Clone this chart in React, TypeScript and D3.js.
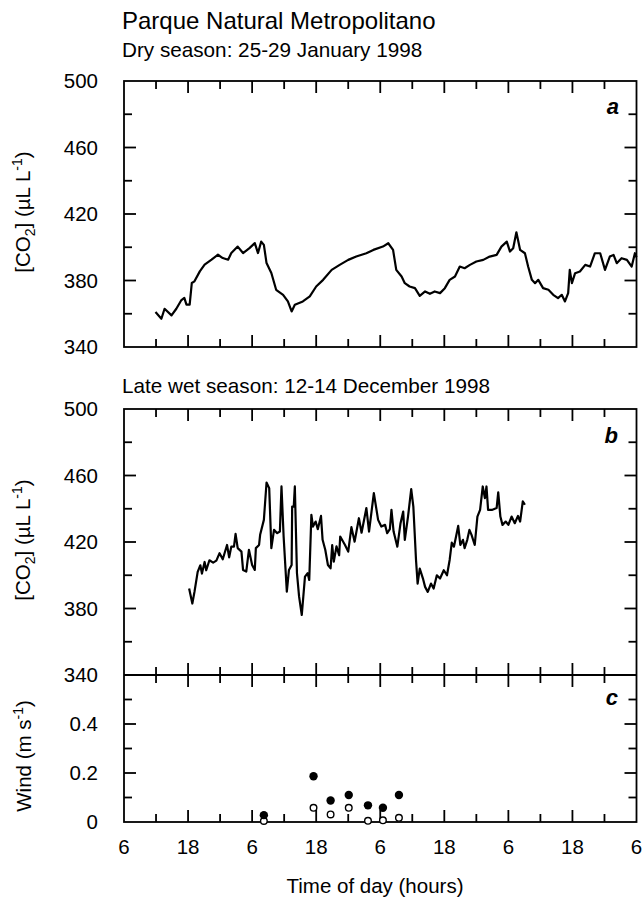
import React from 'react';
import * as d3 from 'd3';

// time axis: hours since 06:00 of the first day
const dryHours = [5.9, 7.0, 7.6, 8.9, 9.8, 10.7, 11.3, 11.7, 12.3, 12.7, 13.2, 14.2, 15.1, 16.4, 17.6, 18.5, 19.5, 20.1, 21.3, 22.3, 23.5, 24.5, 25.1, 25.7, 26.2, 26.7, 27.6, 28.5, 29.8, 30.7, 31.4, 32.0, 33.5, 34.8, 36.0, 37.3, 38.9, 40.4, 42.0, 43.5, 45.4, 46.7, 48.5, 49.5, 50.4, 51.0, 52.0, 52.6, 53.5, 54.5, 55.4, 56.4, 57.3, 58.2, 59.2, 60.1, 61.0, 62.0, 62.9, 63.8, 64.8, 66.0, 67.3, 68.5, 69.8, 70.7, 71.7, 72.3, 72.9, 73.5, 74.2, 75.1, 75.7, 76.4, 77.0, 77.6, 78.5, 79.5, 80.4, 81.3, 82.0, 82.6, 83.2, 83.5, 83.9, 84.5, 85.4, 86.4, 87.3, 88.2, 89.2, 90.1, 91.0, 91.7, 92.3, 93.2, 94.2, 95.1, 95.7, 96.0];
const dryCo2 = [361, 357, 363, 359, 363, 368, 369.5, 365.5, 365.5, 378.5, 379.5, 385.5, 389.5, 392.5, 395.5, 393.5, 392.5, 396.5, 400.4, 396.5, 399.5, 402.5, 396.5, 403.4, 401.4, 390.5, 384.5, 374.4, 371.4, 367.4, 361.4, 365.4, 367.4, 370.4, 376.4, 380.4, 386.4, 389.4, 392.4, 394.4, 396.4, 398.4, 400.4, 402.4, 398.4, 386.4, 382.4, 378.4, 376.4, 375.4, 370.8, 373.4, 372, 373.4, 372.4, 375.4, 380.4, 382.4, 388.4, 387.4, 389.4, 391.4, 392.4, 394.4, 395.4, 400.4, 403.4, 397.4, 399.4, 409, 398.4, 396.4, 388.4, 380.4, 378.4, 380.4, 375.4, 374.4, 371.4, 369.4, 371.4, 367.4, 372.4, 386.4, 378.4, 384.4, 385.4, 389.4, 388.4, 396.4, 396.4, 386.4, 394.4, 395.4, 390.4, 393.4, 392.4, 388.4, 396.4, 394];

const wetHours = [12.2, 12.8, 13.2, 13.8, 14.3, 14.6, 15.1, 15.4, 16.0, 16.7, 17.3, 17.9, 18.5, 19.3, 19.7, 20.1, 20.6, 20.9, 21.3, 22.0, 22.3, 22.9, 23.4, 24.0, 24.5, 24.7, 25.3, 25.5, 26.2, 26.7, 27.2, 27.6, 28.1, 28.7, 29.2, 29.5, 29.9, 30.5, 30.9, 31.4, 31.5, 31.8, 32.0, 32.4, 32.8, 33.3, 33.9, 34.4, 34.7, 35.1, 35.4, 35.9, 36.3, 36.9, 37.2, 37.7, 38.2, 38.7, 39.0, 39.3, 39.8, 40.3, 40.5, 41.4, 42.0, 42.6, 43.2, 44.0, 44.5, 45.4, 45.9, 46.8, 47.6, 48.2, 48.9, 49.3, 49.8, 50.1, 50.5, 51.2, 51.8, 52.3, 52.6, 53.2, 53.8, 54.2, 54.7, 55.0, 55.4, 56.0, 56.4, 56.9, 57.5, 58.0, 58.6, 59.2, 59.9, 60.5, 61.0, 61.4, 61.8, 62.2, 62.6, 63.0, 63.5, 63.8, 64.3, 64.7, 65.1, 65.7, 66.2, 66.7, 67.2, 67.6, 67.9, 68.2, 68.9, 69.8, 70.1, 70.5, 70.9, 71.5, 72.0, 72.6, 73.2, 73.8, 74.2, 74.7, 75.1];
const wetCo2 = [392, 383, 390, 402, 406, 401, 408, 403, 409, 407.6, 408.8, 413.3, 409.6, 418.2, 410.8, 417.2, 417.2, 424.9, 416.3, 414.2, 403.2, 402.2, 415.3, 406.2, 403.2, 416.3, 418.2, 424.3, 433.3, 455.8, 452.4, 416.3, 427.3, 425.3, 426.3, 453.4, 423.3, 390.1, 403.2, 406.2, 441.3, 441.3, 453.4, 401.2, 387.1, 376.1, 399.2, 401.2, 397.2, 436.3, 429.3, 432.3, 427.7, 435.7, 421.3, 415.3, 406.2, 404.2, 418.2, 408.2, 417.4, 412, 423.3, 418.2, 414.2, 428.9, 420.2, 434.3, 425.6, 440.4, 426.3, 449.4, 433.3, 429.3, 430.3, 425.3, 427.7, 439.3, 426.3, 417.2, 431.3, 438.3, 421.3, 435.3, 451.8, 441.3, 409.2, 395, 404, 398, 393, 390, 395, 392, 400, 398, 403, 400, 409.2, 419.6, 417.2, 423.3, 429.7, 418.2, 421.3, 416.3, 421.3, 427.3, 424.3, 418.2, 435.3, 439.3, 453.4, 446.4, 453.4, 439.3, 439.3, 440.4, 449.8, 435.3, 430.3, 432.3, 430.3, 435.3, 431.3, 435.7, 432.3, 444.4, 442.4];

const windHours = [26.2, 35.5, 38.7, 42.1, 45.7, 48.5, 51.5];
const windHigh = [0.028, 0.187, 0.088, 0.11, 0.068, 0.058, 0.11];
const windLow = [0.004, 0.058, 0.031, 0.058, 0.005, 0.007, 0.017];

const xTickLabels = ['6', '18', '6', '18', '6', '18', '6', '18', '6'];
const co2TickLabels = [340, 380, 420, 460, 500];
const windTickLabels = [0, 0.2, 0.4];

const FONT = '"Liberation Sans", Arial, Helvetica, sans-serif';
const LEFT = 124;
const RIGHT = 636.5;
const MAJOR = 12;
const MINOR = 8;
const TICK_FS = 20.5;

const Co2Label = ({ cy }: { cy: number }) => (
  <text transform={`translate(30,${cy}) rotate(-90)`} textAnchor="middle" fontSize={20.5}>
    [CO<tspan fontSize={14} dy={5}>2</tspan>
    <tspan dy={-5}>] (µL L</tspan>
    <tspan fontSize={14} dy={-8}>-1</tspan>
    <tspan dy={8}>)</tspan>
  </text>
);

export default function App() {
  const x = d3.scaleLinear().domain([0, 96]).range([LEFT, RIGHT]);
  const yA = d3.scaleLinear().domain([340, 500]).range([347, 81]);
  const yB = d3.scaleLinear().domain([340, 500]).range([675, 409]);
  const yC = d3.scaleLinear().domain([0, 0.6]).range([822, 675]);

  const dryLine = d3.line<number>().x((_, i) => x(dryHours[i])).y(d => yA(d));
  const wetLine = d3.line<number>().x((_, i) => x(wetHours[i])).y(d => yB(d));

  const hourTicks = d3.range(6, 96, 6);
  const co2Minor = d3.range(360, 500, 20);
  const windMinor = d3.range(1, 6).map(d => d / 10);

  const xTicks = (y: number, up: number, down: number, key: string) =>
    hourTicks.map(h => {
      const len = h % 12 === 0 ? MAJOR : MINOR;
      return (
        <line key={key + h} x1={x(h)} x2={x(h)} y1={y - (up ? len : 0)} y2={y + (down ? len : 0)} />
      );
    });

  const yTicks = (vals: number[], scale: d3.ScaleLinear<number, number>, isMajor: (v: number) => boolean, key: string) =>
    vals.map(v => {
      const len = isMajor(v) ? MAJOR : MINOR;
      return (
        <g key={key + v}>
          <line x1={LEFT} x2={LEFT + len} y1={scale(v)} y2={scale(v)} />
          <line x1={RIGHT} x2={RIGHT - len} y1={scale(v)} y2={scale(v)} />
        </g>
      );
    });

  const co2Major = (v: number) => (v - 340) % 40 === 0;

  return (
    <svg width={643} height={903} style={{ position: 'absolute', left: 0, top: 0, background: '#fff' }}
      fontFamily={FONT} fill="#000">
      <text x={122} y={29} fontSize={24}>Parque Natural Metropolitano</text>
      <text x={122} y={57} fontSize={20.7}>Dry season: 25-29 January 1998</text>
      <text x={122} y={393} fontSize={20.7}>Late wet season: 12-14 December 1998</text>

      {/* panel a */}
      <g stroke="#000" strokeWidth={1.8} fill="none">
        <rect x={LEFT} y={81} width={RIGHT - LEFT} height={266} />
        {xTicks(81, 0, 1, 'at')}
        {xTicks(347, 1, 0, 'ab')}
        {yTicks(co2Minor, yA, co2Major, 'ay')}
        <path d={dryLine(dryCo2) || ''} strokeWidth={2.2} strokeLinejoin="round" />
      </g>
      <g fontSize={TICK_FS} textAnchor="end">
        {co2TickLabels.map(v => (
          <text key={'al' + v} x={98} y={yA(v)} dy="0.36em">{v}</text>
        ))}
      </g>
      <text x={619} y={114} fontSize={22} fontWeight="bold" fontStyle="italic" textAnchor="end">a</text>
      <Co2Label cy={212} />

      {/* panels b and c */}
      <g stroke="#000" strokeWidth={1.8} fill="none">
        <rect x={LEFT} y={409} width={RIGHT - LEFT} height={413} />
        <line x1={LEFT} x2={RIGHT} y1={675} y2={675} />
        {xTicks(409, 0, 1, 'bt')}
        {xTicks(675, 1, 1, 'bc')}
        {xTicks(822, 1, 0, 'cb')}
        {yTicks(co2Minor, yB, co2Major, 'by')}
        {yTicks(windMinor, yC, v => Math.round(v * 10) % 2 === 0, 'cy')}
        <path d={wetLine(wetCo2) || ''} strokeWidth={2.2} strokeLinejoin="round" />
      </g>
      <g fontSize={TICK_FS} textAnchor="end">
        {co2TickLabels.map(v => (
          <text key={'bl' + v} x={98} y={yB(v)} dy="0.36em">{v}</text>
        ))}
        {windTickLabels.map(v => (
          <text key={'cl' + v} x={98} y={yC(v)} dy="0.36em">{v}</text>
        ))}
      </g>
      <text x={618} y={443} fontSize={22} fontWeight="bold" fontStyle="italic" textAnchor="end">b</text>
      <text x={618} y={705} fontSize={22} fontWeight="bold" fontStyle="italic" textAnchor="end">c</text>
      <Co2Label cy={540} />
      <text transform="translate(31,756) rotate(-90)" textAnchor="middle" fontSize={20.5}>
        Wind (m s<tspan fontSize={14} dy={-8}>-1</tspan>
        <tspan dy={8}>)</tspan>
      </text>

      {windHours.map((h, i) => (
        <g key={'w' + i}>
          <circle cx={x(h)} cy={yC(windLow[i])} r={3.3} fill="#fff" stroke="#000" strokeWidth={1.4} />
          <circle cx={x(h)} cy={yC(windHigh[i])} r={4.2} fill="#000" />
        </g>
      ))}

      <g fontSize={TICK_FS} textAnchor="middle">
        {xTickLabels.map((t, i) => (
          <text key={'xl' + i} x={x(i * 12)} y={854}>{t}</text>
        ))}
      </g>
      <text x={375} y={893} fontSize={20.5} textAnchor="middle">Time of day (hours)</text>
    </svg>
  );
}
